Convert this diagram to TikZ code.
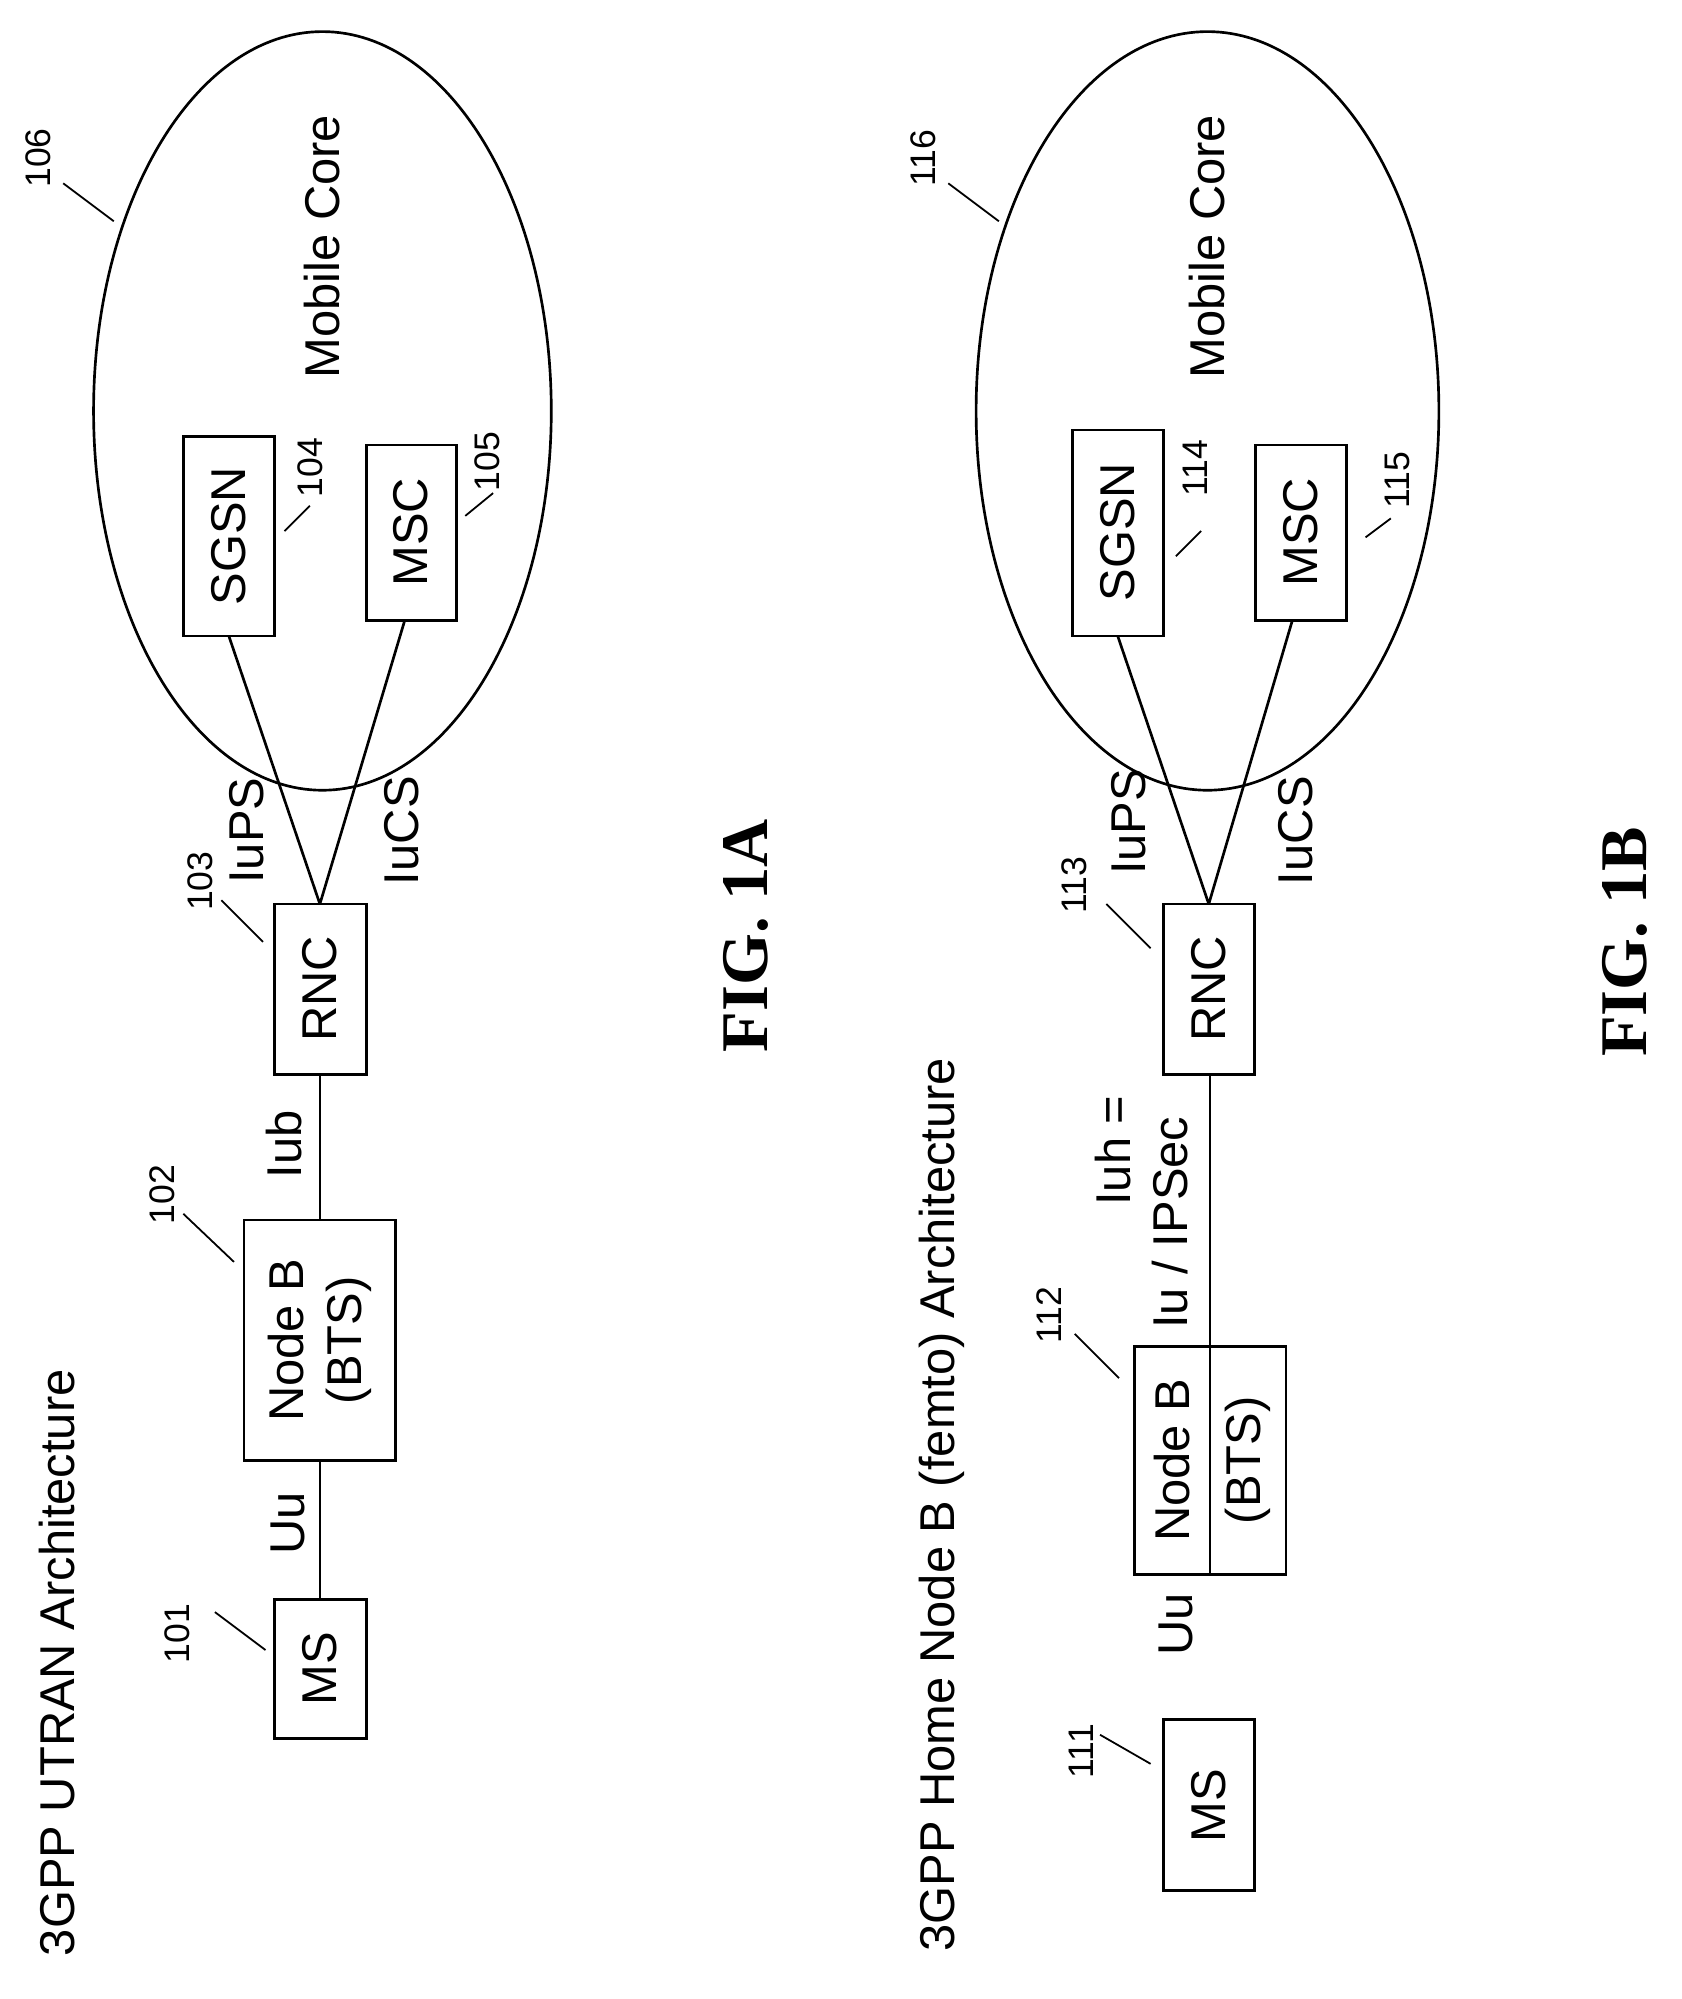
\documentclass[tikz,border=0pt]{standalone}
\usepackage{fontspec}
\setmainfont{Liberation Sans}
\newfontfamily\figfont{Liberation Serif}
\usetikzlibrary{positioning}
\begin{document}
\begin{tikzpicture}[x=0.02cm,y=-0.02cm,line width=1.2pt,
  txt/.style={rotate=90,font=\fontsize{22}{26}\selectfont,inner sep=0pt},
  num/.style={rotate=90,font=\fontsize{16}{19}\selectfont,inner sep=0pt},
  fig/.style={rotate=90,font=\figfont\bfseries\fontsize{30}{34}\selectfont,inner sep=0pt}]
\useasboundingbox (0,0) rectangle (1330,1581);
% FIG. 1A
\node[txt] (t1) at (45,1315) {3GPP UTRAN Architecture};
\draw (217,1265) rectangle (290,1375); \node[txt] (ms1) at (253,1320) {MS};
\draw (193,965) rectangle (313,1155);
\node[txt,align=center] (nb1) at (253,1060) {Node B\\(BTS)};
\draw (217,715) rectangle (290,850); \node[txt] (rnc1) at (253,782) {RNC};
\draw (145,345) rectangle (217,503); \node[txt] (sgsn1) at (181,424) {SGSN};
\draw (290,352) rectangle (361,491); \node[txt] (msc1) at (325,421) {MSC};
\draw (255,325) ellipse (181 and 300);
\draw (253,1265) -- (253,1155) (253,965) -- (253,850);
\draw (253,715) -- (181,503) (253,715) -- (320,491);
\node[txt] at (228,1205) {Uu};
\node[txt] at (225,905) {Iub};
\node[txt] at (195,657) {IuPS};
\node[txt] at (318,657) {IuCS};
\node[txt] at (255,195) {Mobile Core};
\node[num] at (140,1292) {101}; \draw[line width=0.8pt] (170,1275) -- (210,1305);
\node[num] at (128,945) {102}; \draw[line width=0.8pt] (145,960) -- (185,998);
\node[num] at (158,697) {103}; \draw[line width=0.8pt] (175,712) -- (208,745);
\node[num] at (245,370) {104}; \draw[line width=0.8pt] (225,420) -- (245,400);
\node[num] at (385,365) {105}; \draw[line width=0.8pt] (368,408) -- (390,390);
\node[num] at (30,125) {106}; \draw[line width=0.8pt] (50,145) -- (90,175);
\node[fig] at (590,740) {FIG. 1A};
% FIG. 1B
\node[txt] (t2) at (745,1190) {3GPP Home Node B (femto) Architecture};
\draw (920,1360) rectangle (992,1495); \node[txt] (ms2) at (956,1428) {MS};
\draw (897,1065) rectangle (1017,1245);
\node[txt] (nb2a) at (927,1155) {Node B};
\node[txt] (nb2b) at (987,1155) {(BTS)};
\draw (920,715) rectangle (992,850); \node[txt] (rnc2) at (956,782) {RNC};
\draw (848,340) rectangle (920,503); \node[txt] (sgsn2) at (884,421) {SGSN};
\draw (993,352) rectangle (1065,491); \node[txt] (msc2) at (1029,421) {MSC};
\draw (955,325) ellipse (183 and 300);
\draw (957,850) -- (957,1245);
\draw (956,715) -- (884,503) (956,715) -- (1022,491);
\node[txt] at (930,1285) {Uu};
\node[txt] at (880,910) {Iuh =};
\node[txt] at (925,967) {Iu / IPSec};
\node[txt] at (893,650) {IuPS};
\node[txt] at (1025,657) {IuCS};
\node[txt] at (955,195) {Mobile Core};
\node[num] at (855,1385) {111}; \draw[line width=0.8pt] (870,1372) -- (910,1395);
\node[num] at (830,1040) {112}; \draw[line width=0.8pt] (850,1055) -- (885,1090);
\node[num] at (850,700) {113}; \draw[line width=0.8pt] (875,715) -- (910,750);
\node[num] at (945,370) {114}; \draw[line width=0.8pt] (930,440) -- (950,420);
\node[num] at (1105,380) {115}; \draw[line width=0.8pt] (1080,425) -- (1100,410);
\node[num] at (730,125) {116}; \draw[line width=0.8pt] (750,145) -- (790,175);
\node[fig] at (1285,745) {FIG. 1B};
\end{tikzpicture}
\end{document}
